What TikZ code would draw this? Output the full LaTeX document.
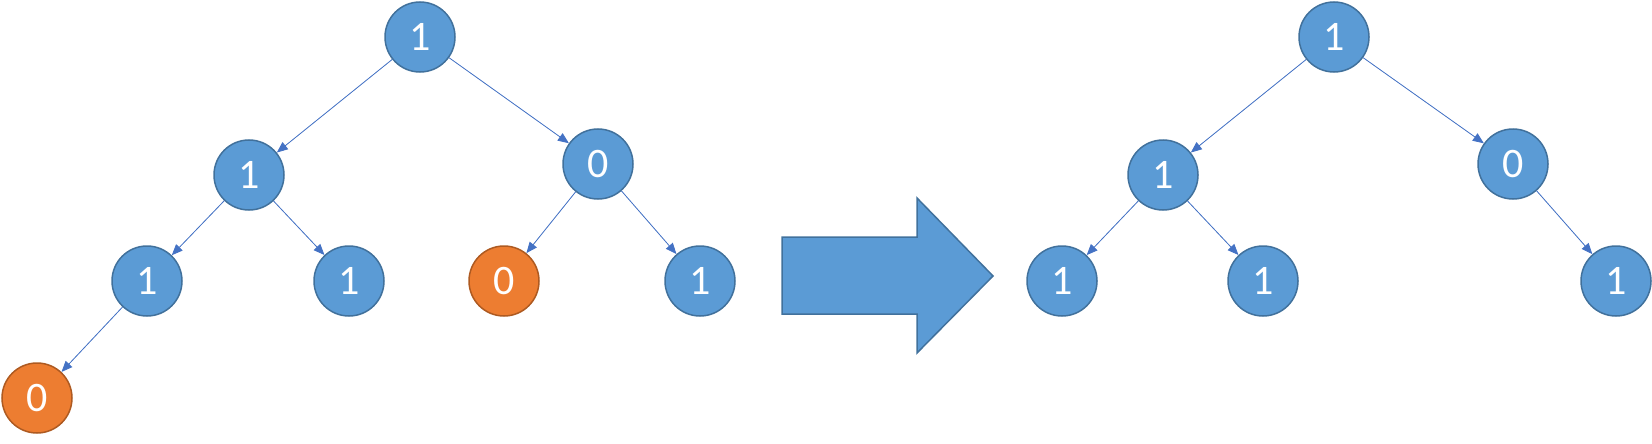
\documentclass[tikz,border=0pt]{standalone}
\usepackage{fontspec}
\setmainfont{Carlito}
\usetikzlibrary{arrows.meta}
\definecolor{bitblue}{HTML}{5B9BD5}
\definecolor{bitrim}{HTML}{41719C}
\definecolor{cutorange}{HTML}{ED7D31}
\definecolor{cutrim}{HTML}{AE5A21}
\definecolor{linkblue}{HTML}{4472C4}

\begin{document}
\begin{tikzpicture}[>={Triangle[length=11pt,width=9pt]},x=1pt,y=-1pt,
  bit/.style={circle,draw=bitrim,fill=bitblue,line width=1.5pt,minimum size=70pt,inner sep=0pt,text=white,font=\fontsize{42}{48}\selectfont},
  cut/.style={bit,draw=cutrim,fill=cutorange},
  link/.style={->,draw=linkblue,fill=linkblue,line width=0.8pt}]
  \useasboundingbox (0,0) rectangle (1652,444);
  % Tree before
  \node[bit] (root) at (420,37) {1};
  \node[bit] (l) at (249,175) {1};
  \node[bit] (r) at (598,164) {0};
  \node[bit] (ll) at (147,281) {1};
  \node[bit] (lr) at (349,281) {1};
  \node[cut] (rl) at (504,281) {0};
  \node[bit] (rr) at (700,281) {1};
  \node[cut] (lll) at (37,398) {0};
  \draw[link] (root) -- (l);
  \draw[link] (root) -- (r);
  \draw[link] (l) -- (ll);
  \draw[link] (l) -- (lr);
  \draw[link] (r) -- (rl);
  \draw[link] (r) -- (rr);
  \draw[link] (ll) -- (lll);
  % Big arrow
  \draw[fill=bitblue,draw=bitrim,line width=1.5pt,line join=miter]
    (782,237) -- (917,237) -- (917,198) -- (993,276) -- (917,353) -- (917,314) -- (782,314) -- cycle;
  % Tree after
  \node[bit] (root2) at (1334,37) {1};
  \node[bit] (l2) at (1163,175) {1};
  \node[bit] (r2) at (1513,164) {0};
  \node[bit] (ll2) at (1062,281) {1};
  \node[bit] (lr2) at (1263,281) {1};
  \node[bit] (rr2) at (1616,281) {1};
  \draw[link] (root2) -- (l2);
  \draw[link] (root2) -- (r2);
  \draw[link] (l2) -- (ll2);
  \draw[link] (l2) -- (lr2);
  \draw[link] (r2) -- (rr2);
\end{tikzpicture}
\end{document}
